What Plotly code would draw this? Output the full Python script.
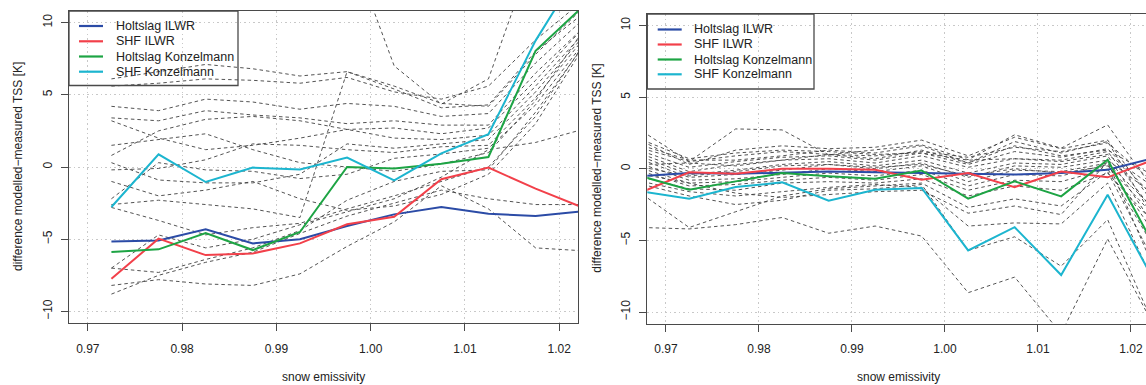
import plotly.graph_objects as go

# ---------------- data ----------------
x_left = [0.9725, 0.9775, 0.9825, 0.9875, 0.9925, 0.9975, 1.0025, 1.0075, 1.0125, 1.0175, 1.0225]
x_right = [0.9675, 0.9725, 0.9775, 0.9825, 0.9875, 0.9925, 0.9975, 1.0025, 1.0075, 1.0125, 1.0175, 1.0225]

series_names = ["Holtslag ILWR", "SHF ILWR", "Holtslag Konzelmann", "SHF Konzelmann"]
series_colors = ["#2B4BA6", "#F2404A", "#1DA444", "#1CB5CF"]

left_holtslag_ilwr = [-5.15, -5.08, -4.32, -5.29, -5.0, -4.09, -3.28, -2.77, -3.23, -3.4, -3.06]
left_shf_ilwr = [-7.74, -4.96, -6.1, -5.98, -5.29, -3.97, -3.44, -0.85, -0.04, -1.5, -2.8]
left_holtslag_konz = [-5.89, -5.7, -4.57, -5.75, -4.5, 0.0, -0.1, 0.23, 0.69, 8.04, 11.1]
left_shf_konz = [-2.77, 0.88, -1.04, -0.04, -0.17, 0.65, -0.92, 0.95, 2.27, 8.75, 14.0]

right_holtslag_ilwr = [-0.5, -0.3, -0.35, -0.3, -0.2, -0.25, -0.3, -0.35, -0.4, -0.3, -0.07, 0.75]
right_shf_ilwr = [-1.6, -0.25, -0.35, 0.0, 0.0, -0.07, -0.77, -0.3, -1.28, -0.19, -0.6, 0.65]
right_holtslag_konz = [-0.55, -1.46, -0.88, -0.3, -0.53, -0.7, -0.12, -2.09, -0.88, -1.93, 0.63, -5.4]
right_shf_konz = [-1.6, -2.1, -1.28, -0.95, -2.23, -1.46, -1.34, -5.7, -4.08, -7.42, -1.81, -7.84]

left_dashed = [
    [6.1, 6.6, 7.1, 6.8, 6.3, 6.6, 5.6, 4.4, 4.2, 7.8, 11.0],
    [5.6, 5.8, 6.1, 6.0, 5.8, 6.2, 5.2, 4.7, 5.6, 8.8, 11.5],
    [4.2, 3.9, 4.7, 4.5, 4.0, 4.4, 4.2, 3.5, 3.7, 7.2, 10.2],
    [3.4, 3.2, 3.9, 3.6, 3.4, 3.0, 3.2, 2.9, 2.9, 6.5, 9.6],
    [3.2, 2.0, 1.2, 1.5, 2.0, 2.6, 2.7, 2.3, 2.7, 6.0, 9.6],
    [0.8, 2.5, 3.3, 3.5, 3.2, 2.6, 2.0, 1.9, 2.2, 5.6, 9.2],
    [0.3, -0.9, -1.1, -1.1, -0.5, 1.6, 1.3, 1.6, 1.9, 5.2, 9.0],
    [-0.2, -0.1, 0.5, 1.6, 1.5, 1.2, 1.0, 1.4, 1.5, 4.8, 8.8],
    [-2.2, 0.3, -0.2, -0.3, -0.8, -0.5, 0.6, 0.9, 1.3, 4.3, 8.5],
    [-2.6, -2.3, -2.6, -2.9, -3.5, 6.6, 5.4, 4.1, 4.3, 8.0, 10.6],
    [-7.0, -7.3, -6.4, -5.6, -4.4, -2.3, -1.0, -0.3, -0.2, 3.8, 8.3],
    [-8.2, -7.8, -8.1, -8.2, -7.4, -5.5, -3.8, -1.3, -2.9, -5.6, -5.8],
    [-8.8, -7.5, -6.6, -5.9, -4.6, -3.4, -2.5, -1.6, -2.2, -2.6, -2.6],
    [-7.0, -4.7, -5.6, -5.0, -4.0, -3.1, -2.2, -0.7, 1.2, 1.7, 2.6],
    [-2.8, -3.7, -4.7, -4.2, -3.9, -2.9, -2.0, -1.0, 0.0, 3.5, 8.4],
    [17.0, 17.0, 17.0, 17.0, 17.0, 15.8, 7.0, 4.35, 6.1, 15.3, 17.0],
    [1.5, 1.9, 2.3, 1.2, 0.3, 0.0, -0.3, 0.2, 1.0, 4.6, 9.4],
    [-1.0, -2.0, -1.6, -1.0, -2.2, -3.0, -2.7, -1.9, -0.5, 3.0, 8.2],
]

right_dashed = [
    [2.6, 0.5, 2.78, 2.71, 0.97, 1.32, 1.67, 0.63, 2.37, 1.44, 3.06, -1.5],
    [1.9, 0.3, 1.3, 1.6, 1.4, 1.5, 2.0, 0.9, 2.2, 1.4, 2.0, -2.5],
    [1.6, 0.6, 0.6, 0.9, 1.3, 1.1, 1.6, 0.4, 1.9, 1.1, 1.9, -3.5],
    [1.4, 0.5, 0.9, 1.2, 1.0, 0.9, 1.2, 0.8, 1.5, 1.2, 1.8, -1.0],
    [1.2, 0.1, 0.5, 0.8, 0.9, 0.6, 1.1, 0.3, 1.2, 0.8, 1.4, -2.0],
    [1.0, -0.2, 0.3, 0.6, 0.7, 0.4, 0.9, 0.1, 0.7, 0.6, 1.2, -3.0],
    [0.8, -0.4, -0.1, 0.3, 0.5, 0.2, 0.6, -0.3, 0.4, 0.3, 0.9, -4.0],
    [0.6, -0.6, -0.4, -0.1, 0.3, 0.0, 0.4, -0.6, 0.2, 0.1, 0.6, -1.8],
    [0.3, -0.8, -0.7, -0.4, 0.0, -0.2, 0.2, -0.9, -0.1, -0.2, 0.4, -2.8],
    [0.0, -1.0, -0.9, -0.6, -0.3, -0.5, -0.1, -1.2, -0.4, -0.5, 0.3, -4.5],
    [-0.2, -1.2, -1.1, -0.8, -0.6, -0.8, -0.4, -1.5, -0.8, -0.9, 0.0, -5.5],
    [-0.6, -1.4, -1.5, -1.0, -0.9, -1.0, -0.7, -1.9, -1.2, -1.5, -0.3, -3.8],
    [-1.8, -4.1, -3.0, -1.9, -1.4, -1.2, -1.0, -2.7, -2.1, -2.6, -0.2, -6.5],
    [-4.1, -4.2, -3.9, -3.4, -4.5, -4.0, -4.7, -8.65, -7.56, -11.5, -4.9, -11.0],
    [-1.1, -1.9, -2.5, -2.2, -1.5, -1.4, -1.1, -5.7, -4.75, -6.8, -3.55, -11.0],
    [-0.9, -1.6, -1.9, -1.6, -1.3, -1.1, -1.3, -4.0, -3.78, -3.85, -1.0, -8.0],
    [-0.4, -1.0, -1.7, -2.0, -1.8, -1.6, -1.5, -3.1, -2.6, -3.2, 0.5, -7.0],
    [0.3, 0.4, 0.2, 0.6, 1.0, 0.7, 1.3, 0.4, 1.6, 0.9, 1.3, -0.5],
    [2.0, 0.7, 1.1, 1.3, 1.2, 1.0, 1.1, 0.6, 0.7, 0.5, 1.0, -1.3],
    [0.1, -0.5, -0.2, 0.2, 0.3, 0.1, 0.3, -0.5, 0.0, -0.3, 0.2, -3.3],
]

x_tickvals = [0.97, 0.98, 0.99, 1.00, 1.01, 1.02]
x_ticktext = ["0.97", "0.98", "0.99", "1.00", "1.01", "1.02"]
y_tickvals = [-10, -5, 0, 5, 10]
y_ticktext = ["\u221210", "\u22125", "0", "5", "10"]

x_title = "snow emissivity"
y_title = "difference modelled\u2212measured TSS [K]"

# ---------------- figure ----------------
W, H = 1146, 385
fig = go.Figure()

DASH_COLOR = "#404040"
DASH = "3.5px,3px"
for ys in left_dashed:
    fig.add_trace(go.Scatter(x=x_left, y=ys, mode="lines", xaxis="x", yaxis="y",
                             line=dict(color=DASH_COLOR, width=0.9, dash=DASH),
                             showlegend=False, hoverinfo="skip"))
for ys in right_dashed:
    fig.add_trace(go.Scatter(x=x_right, y=ys, mode="lines", xaxis="x2", yaxis="y2",
                             line=dict(color=DASH_COLOR, width=0.9, dash=DASH),
                             showlegend=False, hoverinfo="skip"))

left_series = [left_holtslag_ilwr, left_shf_ilwr, left_holtslag_konz, left_shf_konz]
right_series = [right_holtslag_ilwr, right_shf_ilwr, right_holtslag_konz, right_shf_konz]
for name, col, ys in zip(series_names, series_colors, left_series):
    fig.add_trace(go.Scatter(x=x_left, y=ys, mode="lines", name=name, xaxis="x", yaxis="y",
                             line=dict(color=col, width=2), showlegend=False))
for name, col, ys in zip(series_names, series_colors, right_series):
    fig.add_trace(go.Scatter(x=x_right, y=ys, mode="lines", name=name, xaxis="x2", yaxis="y2",
                             line=dict(color=col, width=2), showlegend=False))

# pixel geometry
L_left, L_right, L_top, L_bot = 69, 578, 11, 323
R_left, R_right, R_top, R_bot = 647.3, 1146, 14.0, 323.5
XR_MAX = 0.968 + (R_right - R_left) / 9300.0

FONT = "Liberation Sans, Arial, sans-serif"
TXT = "#222222"
AXCOL = "#4a4a4a"
GRID = "#c8c8c8"

common_x = dict(tickvals=x_tickvals, ticktext=x_ticktext, showgrid=True, gridcolor=GRID,
                griddash="1.5px,3px", gridwidth=1, zeroline=False, showline=True, mirror=True,
                linecolor=AXCOL, linewidth=1.4, ticks="outside", ticklen=7, tickwidth=1.2,
                tickcolor=AXCOL, ticklabelstandoff=7,
                tickfont=dict(family=FONT, size=12, color=TXT))
common_y = dict(tickvals=y_tickvals, ticktext=y_ticktext, showgrid=True, gridcolor=GRID,
                griddash="1.5px,3px", gridwidth=1, zeroline=False, showline=True, mirror=True,
                linecolor=AXCOL, linewidth=1.4, ticks="outside", ticklen=7, tickwidth=1.2,
                tickcolor=AXCOL, tickangle=-90, range=[-10.8, 10.8], ticklabelstandoff=4,
                tickfont=dict(family=FONT, size=12, color=TXT))

def px(xp):
    return xp / W

def py(yp):
    return 1 - yp / H

shapes = []
annotations = []
legend_specs = [
    # box left, box right, box top, box bottom, sample x0, sample x1, text x, row ys
    (L_left, 238, L_top, 85.5, 79, 103, 114, [26, 41.3, 56.5, 71.7]),
    (R_left, 814, R_top, 89, 657.7, 681.7, 692.5, [29.5, 44.5, 59.5, 74.3]),
]
for bx0, bx1, by0, by1, sx0, sx1, tx, rows in legend_specs:
    shapes.append(dict(type="rect", xref="paper", yref="paper", x0=px(bx0), x1=px(bx1),
                       y0=py(by1), y1=py(by0), line=dict(color=AXCOL, width=1.3),
                       fillcolor="rgba(0,0,0,0)", layer="above"))
    for name, col, ry in zip(series_names, series_colors, rows):
        shapes.append(dict(type="line", xref="paper", yref="paper", x0=px(sx0), x1=px(sx1),
                           y0=py(ry), y1=py(ry), line=dict(color=col, width=2.2), layer="above"))
        annotations.append(dict(text=name, x=px(tx), y=py(ry), xref="paper", yref="paper",
                                xanchor="left", yanchor="middle", showarrow=False,
                                font=dict(family=FONT, size=12.5, color=TXT)))

annotations += [
    dict(text=x_title, x=px((L_left + L_right) / 2), y=py(377), xref="paper", yref="paper",
         xanchor="center", yanchor="middle", showarrow=False,
         font=dict(family=FONT, size=12, color=TXT)),
    dict(text=x_title, x=px((R_left + 1150) / 2), y=py(377), xref="paper", yref="paper",
         xanchor="center", yanchor="middle", showarrow=False,
         font=dict(family=FONT, size=12, color=TXT)),
    dict(text=y_title, x=px(18), y=py((L_top + L_bot) / 2), xref="paper", yref="paper",
         xanchor="center", yanchor="middle", showarrow=False, textangle=-90,
         font=dict(family=FONT, size=12, color=TXT)),
    dict(text=y_title, x=px(597), y=py((R_top + R_bot) / 2), xref="paper", yref="paper",
         xanchor="center", yanchor="middle", showarrow=False, textangle=-90,
         font=dict(family=FONT, size=12, color=TXT)),
]

fig.update_layout(
    width=W, height=H, autosize=False,
    margin=dict(l=0, r=0, t=0, b=0),
    paper_bgcolor="white", plot_bgcolor="white",
    font=dict(family=FONT, size=12, color=TXT),
    showlegend=False,
    xaxis=dict(domain=[px(L_left), px(L_right)], range=[0.968, 1.022], anchor="y", **common_x),
    yaxis=dict(domain=[py(L_bot), py(L_top)], anchor="x", **common_y),
    xaxis2=dict(domain=[px(R_left), 1.0], range=[0.968, XR_MAX], anchor="y2", **common_x),
    yaxis2=dict(domain=[py(R_bot), py(R_top)], anchor="x2", **common_y),
    shapes=shapes,
    annotations=annotations,
)

fig.write_html("out.html")
